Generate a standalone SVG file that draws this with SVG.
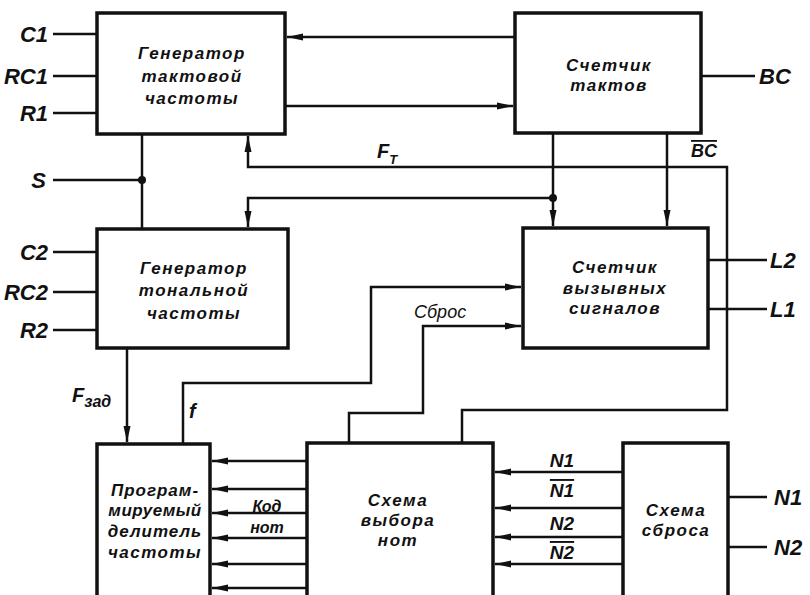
<svg xmlns="http://www.w3.org/2000/svg" width="810" height="595" viewBox="0 0 810 595">
<style>
.box{fill:#fff;stroke:#111;stroke-width:3.5}
.ln{fill:none;stroke:#111;stroke-width:2.5}
.ar{fill:none;stroke:#111;stroke-width:2.5;marker-end:url(#ah)}
.bt{font-family:"Liberation Sans",Arial,sans-serif;font-style:italic;font-weight:bold;font-size:17px;letter-spacing:1.5px;text-anchor:middle;fill:#111}
.lb{font-family:"Liberation Sans",Arial,sans-serif;font-style:italic;font-weight:bold;font-size:22px;fill:#111}
.sm{font-family:"Liberation Sans",Arial,sans-serif;font-style:italic;font-weight:bold;font-size:19px;fill:#111;text-anchor:middle}
.md{font-family:"Liberation Sans",Arial,sans-serif;font-style:italic;font-size:18px;fill:#111}
</style>
<defs>
<marker id="ah" viewBox="0 0 16 8" refX="16" refY="4" markerWidth="16" markerHeight="8" orient="auto" markerUnits="userSpaceOnUse"><path d="M0,0.5 L16,4 L0,7.5 z" fill="#111"/></marker>
</defs>
<rect width="810" height="595" fill="#fff"/>

<g id="connectors">
<line class="ar" x1="515" y1="37" x2="287" y2="37"/>
<line class="ar" x1="285" y1="106" x2="513" y2="106"/>
<line class="ln" x1="142" y1="134" x2="142" y2="229"/>
<line class="ln" x1="53" y1="180" x2="142" y2="180"/>
<circle cx="142" cy="180" r="4" fill="#111"/>
<polyline class="ar" points="462,443 462,410 727,410 727,167 248,167 248,136"/>
<line class="ar" x1="553" y1="133" x2="553" y2="226"/>
<polyline class="ar" points="553,198 248,198 248,227"/>
<circle cx="553" cy="198" r="4" fill="#111"/>
<line class="ar" x1="667" y1="133" x2="667" y2="226"/>
<polyline class="ar" points="183,444 183,383 371,383 371,287 521,287"/>
<polyline class="ar" points="349,443 349,413 423,413 423,326 521,326"/>
<line class="ar" x1="127" y1="348" x2="127" y2="442"/>
<line class="ar" x1="307" y1="461" x2="212" y2="461"/>
<line class="ar" x1="307" y1="489" x2="212" y2="489"/>
<line class="ar" x1="307" y1="513" x2="212" y2="513"/>
<line class="ar" x1="307" y1="538" x2="212" y2="538"/>
<line class="ar" x1="307" y1="564" x2="212" y2="564"/>
<line class="ar" x1="307" y1="588" x2="212" y2="588"/>
<line class="ar" x1="623" y1="472" x2="495" y2="472"/>
<line class="ar" x1="623" y1="508" x2="495" y2="508"/>
<line class="ar" x1="623" y1="537" x2="495" y2="537"/>
<line class="ar" x1="623" y1="564" x2="495" y2="564"/>
<line class="ln" x1="53" y1="34" x2="97" y2="34"/>
<line class="ln" x1="53" y1="76" x2="97" y2="76"/>
<line class="ln" x1="53" y1="113" x2="97" y2="113"/>
<line class="ln" x1="53" y1="252" x2="97" y2="252"/>
<line class="ln" x1="53" y1="292" x2="97" y2="292"/>
<line class="ln" x1="53" y1="330" x2="97" y2="330"/>
<line class="ln" x1="701" y1="76" x2="755" y2="76"/>
<line class="ln" x1="708" y1="260" x2="767" y2="260"/>
<line class="ln" x1="708" y1="309" x2="767" y2="309"/>
<line class="ln" x1="728" y1="497" x2="767" y2="497"/>
<line class="ln" x1="728" y1="547" x2="767" y2="547"/>
</g>

<g id="labels">
<text class="lb" x="48" y="42" text-anchor="end">C1</text>
<text class="lb" x="48" y="84" text-anchor="end">RC1</text>
<text class="lb" x="48" y="121" text-anchor="end">R1</text>
<text class="lb" x="46" y="188" text-anchor="end">S</text>
<text class="lb" x="48" y="260" text-anchor="end">C2</text>
<text class="lb" x="48" y="300" text-anchor="end">RC2</text>
<text class="lb" x="48" y="338" text-anchor="end">R2</text>
<text class="lb" x="759" y="84">BC</text>
<text class="lb" x="770" y="268">L2</text>
<text class="lb" x="770" y="317">L1</text>
<text class="lb" x="774" y="505">N1</text>
<text class="lb" x="774" y="555">N2</text>
<text class="lb" x="377" y="158" style="font-size:20px">F<tspan dy="6" style="font-size:13px">T</tspan></text>
<text class="sm" x="704" y="157" style="font-size:18px;text-decoration:overline">BC</text>
<text class="md" x="414" y="318">Сброс</text>
<text class="lb" x="72" y="402" style="font-size:20px">F<tspan dy="5" style="font-size:16px">зад</tspan></text>
<text class="lb" x="189" y="418" style="font-size:20px">f</text>
<text class="md" x="267" y="512" text-anchor="middle" style="font-weight:bold;font-size:16px">Код</text>
<text class="md" x="267" y="533" text-anchor="middle" style="font-weight:bold;font-size:16px">нот</text>
<text class="sm" x="562" y="467">N1</text>
<text class="sm" x="562" y="497" style="text-decoration:overline">N1</text>
<text class="sm" x="562" y="530">N2</text>
<text class="sm" x="562" y="559" style="text-decoration:overline">N2</text>
</g>

<g id="clock-gen">
<rect class="box" x="97" y="13" width="188" height="121"/>
<text class="bt" x="192" y="59">Генератор</text>
<text class="bt" x="192" y="82">тактовой</text>
<text class="bt" x="192" y="104">частоты</text>
</g>

<g id="clock-counter">
<rect class="box" x="515" y="13" width="186" height="120"/>
<text class="bt" x="609" y="71">Счетчик</text>
<text class="bt" x="609" y="91">тактов</text>
</g>

<g id="tone-gen">
<rect class="box" x="97" y="229" width="191" height="119"/>
<text class="bt" x="194" y="274">Генератор</text>
<text class="bt" x="194" y="296">тональной</text>
<text class="bt" x="194" y="319">частоты</text>
</g>

<g id="call-counter">
<rect class="box" x="523" y="228" width="185" height="120"/>
<text class="bt" x="615" y="273">Счетчик</text>
<text class="bt" x="615" y="294">вызывных</text>
<text class="bt" x="615" y="314">сигналов</text>
</g>

<g id="divider">
<rect class="box" x="97" y="444" width="113" height="160"/>
<text class="bt" x="155" y="496" style="letter-spacing:1px">Програм-</text>
<text class="bt" x="155" y="516" style="letter-spacing:0.5px">мируемый</text>
<text class="bt" x="155" y="537" style="letter-spacing:1px">делитель</text>
<text class="bt" x="155" y="558">частоты</text>
</g>

<g id="note-select">
<rect class="box" x="307" y="443" width="186" height="160"/>
<text class="bt" x="398" y="506">Схема</text>
<text class="bt" x="398" y="526">выбора</text>
<text class="bt" x="398" y="546">нот</text>
</g>

<g id="reset">
<rect class="box" x="623" y="443" width="105" height="160"/>
<text class="bt" x="676" y="516">Схема</text>
<text class="bt" x="676" y="536">сброса</text>
</g>
</svg>
